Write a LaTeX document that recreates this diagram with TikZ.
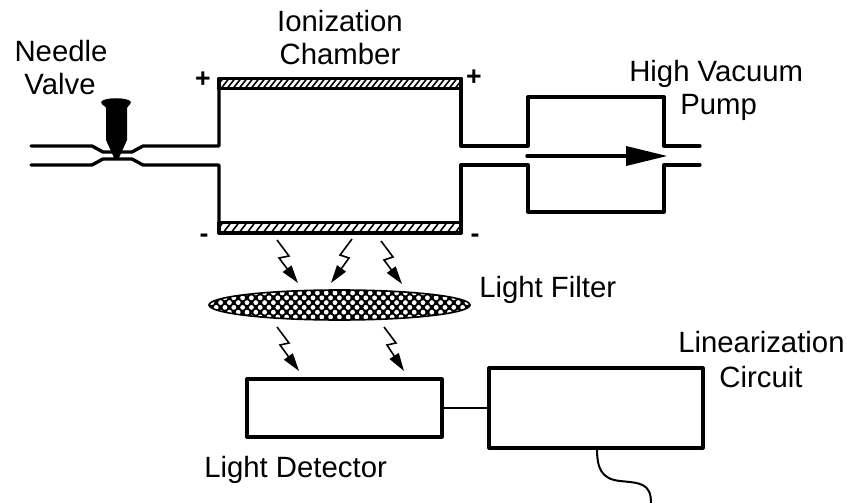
\documentclass[tikz,border=0pt]{standalone}
\usepackage{fontspec}
\setmainfont{Liberation Sans}
\usetikzlibrary{arrows.meta}
\tikzset{
  pipe/.style={line width=2.5pt,line cap=round,line join=round},
  lab/.style={font=\fontsize{22}{24}\selectfont,inner sep=0pt,anchor=base},
  sign/.style={font=\fontsize{20}{22}\selectfont\bfseries,inner sep=0pt},
  boxa/.style={draw,line width=2.4pt,inner sep=0pt,line join=round},
  thin link/.style={line width=1.2pt},
  boltl/.style={line width=1.2pt,-{Triangle[length=13.5pt,width=8pt]}}
}
\newcommand{\hatchplate}[5]{%
  \begin{scope}
    \clip (#1,#2) rectangle (#3,#4);
    \foreach \k in {0,#5,...,260} {
      \draw[line width=1.2pt] ({#1+\k-4},#4) -- ({#1+\k+4},#2);
    }
  \end{scope}
  \draw[line width=2.4pt,line join=round] (#1,#2) rectangle (#3,#4);
}
\newcommand{\boltarrow}[8]{\draw[boltl,line join=miter] (#1,#2) -- (#3,#4) -- (#5,#6) -- (#7,#8);}
\begin{document}
\begin{tikzpicture}[x=0.75pt,y=-0.75pt]
\useasboundingbox (0,0) rectangle (847,503);
% plates
\hatchplate{219}{78.5}{461}{88.5}{6}
\hatchplate{219}{222.5}{461}{233}{8}
% pipes
\draw[pipe] (31,146) -- (92,146) -- (103,152) -- (132,152) -- (143,146) -- (219,146) -- (219,79);
\draw[pipe] (31,165) -- (92,165) -- (103,159) -- (132,159) -- (143,165) -- (219,165) -- (219,233);
\draw[pipe] (461,79) -- (461,146) -- (528,146) -- (528,97) -- (664,97) -- (664,146) -- (700,146);
\draw[pipe] (461,233) -- (461,165) -- (528,165) -- (528,212) -- (664,212) -- (664,165) -- (700,165);
% flow arrow
\draw[line width=2.6pt,line cap=round] (527,156) -- (630,156);
\fill (626,146) -- (667,156) -- (626,166) -- cycle;
% needle
\fill (101,102) .. controls (103,97) and (129,97) .. (131,102) .. controls (130,106) and (127,106) .. (127,108) -- (127,140) -- (118,160) -- (115,160) -- (106,140) -- (106,108) .. controls (106,106) and (102,106) .. (101,102) -- cycle;
% bolts
\boltarrow{277}{240}{289}{256}{279}{258}{298}{283}
\boltarrow{352}{239}{340}{255}{349}{258}{331}{283}
\boltarrow{381}{241}{393}{257}{384}{260}{402}{284}
\boltarrow{277}{327}{289}{343}{280}{345}{299}{371}
\boltarrow{384}{327}{396}{343}{387}{345}{404}{371}
% filter
\begin{scope}
  \clip (339.5,305) ellipse [x radius=130.5,y radius=15];
  \fill (205,285) rectangle (475,325);
  \foreach \r in {0,...,9} {
    \foreach \c in {0,...,31} {
      \fill[white] ({203+\c*8.8+mod(\r,2)*4.4},{283.4+\r*4.8}) circle [radius=2.4];
    }
  }
\end{scope}
\draw[line width=1.2pt] (339.5,305) ellipse [x radius=130.5,y radius=15];
% boxes
\node[boxa,minimum width=146.25pt,minimum height=43.5pt] (det) at (344.5,408) {};
\node[boxa,minimum width=160.5pt,minimum height=60pt] (lin) at (596,408) {};
\draw[thin link] (det.east) -- (lin.west);
\coordinate (cable) at (651,503);
\draw[line width=1.5pt] (597,448) .. controls (597,468) and (601,479) .. (620,481) .. controls (640,483) and (651,483) .. (cable);
% labels
\node[lab] (t1) at (61,62) {Needle};
\node[lab] (t2) at (60,95) {Valve};
\node[lab] (t3) at (340,32) {Ionization};
\node[lab] (t4) at (340,65) {Chamber};
\node[lab,anchor=base west] (t5) at (629,82) {High Vacuum};
\node[lab,anchor=base west] (t6) at (680,115) {Pump};
\node[lab,anchor=base west] (t7) at (479,297) {Light Filter};
\node[lab,anchor=base west] (t8) at (678,352) {Linearization};
\node[lab] (t9) at (761,387) {Circuit};
\node[lab,anchor=base west] (t10) at (204,477) {Light Detector};
\node[sign] (s1) at (203,80) {+};
\node[sign] (s2) at (474,78) {+};
\node[sign] (s3) at (204,238) {-};
\node[sign] (s4) at (475,238) {-};
\end{tikzpicture}
\end{document}
